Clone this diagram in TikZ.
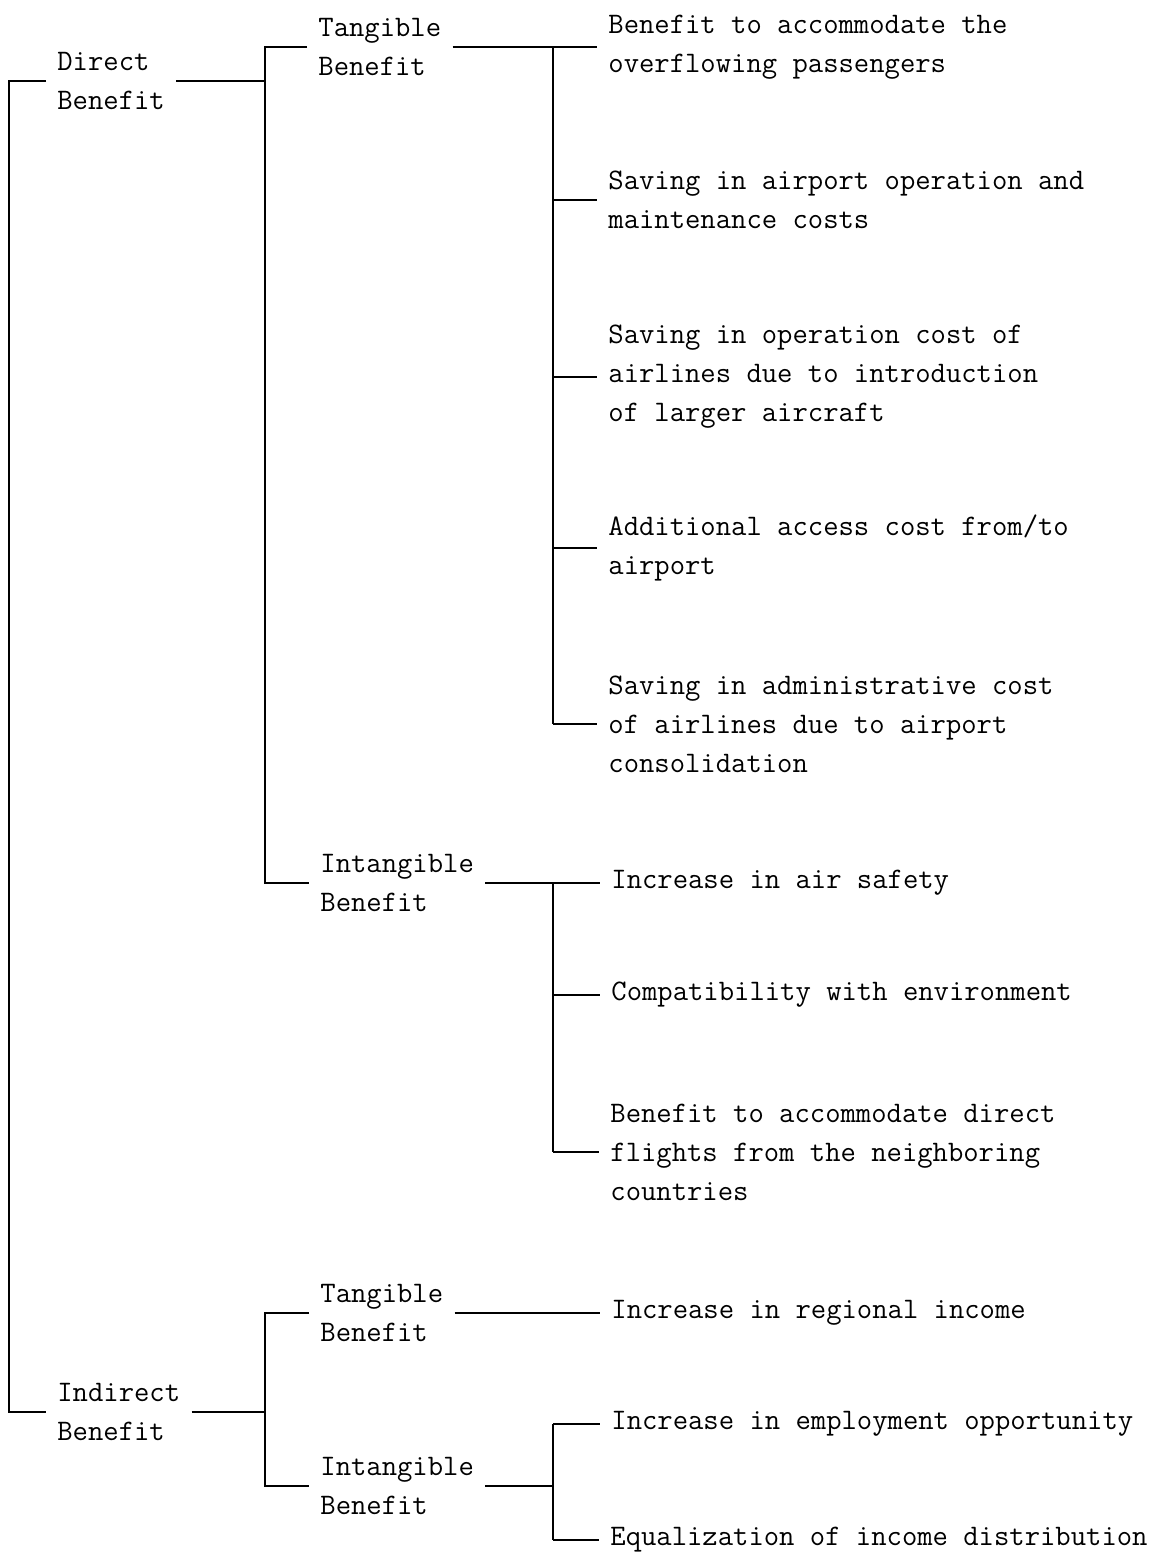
\documentclass[tikz,border=0pt]{standalone}
\usepackage{fontspec}
\usetikzlibrary{positioning}

\begin{document}
\begin{tikzpicture}[x=0.5pt,y=-0.5pt,
  lbl/.style={anchor=west,align=left,inner xsep=5.5pt,inner ysep=0pt,
    font=\fontsize{14.9}{19.5}\selectfont\ttfamily},
  ln/.style={black,line width=0.9pt}]
\useasboundingbox (0,0) rectangle (1157,1557);

% columns of the brackets
\coordinate (x0) at (9,0);
\coordinate (x1) at (265,0);
\coordinate (x2) at (553,0);

% first level
\node[lbl] (direct) at (46,81) {Direct\\Benefit};
\node[lbl] (indirect) at (46,1412) {Indirect\\Benefit};

% second level
\node[lbl] (tanA) at (307,47) {Tangible\\Benefit};
\node[lbl] (intA) at (309,883) {Intangible\\Benefit};
\node[lbl] (tanB) at (309,1313) {Tangible\\Benefit};
\node[lbl] (intB) at (309,1486) {Intangible\\Benefit};

% items
\node[lbl] (a1) at (597,47) {Benefit to accommodate the\\overflowing passengers};
\node[lbl] (a2) at (597,200) {Saving in airport operation and\\maintenance costs};
\node[lbl] (a3) at (597,377) {Saving in operation cost of\\airlines due to introduction\\of larger aircraft};
\node[lbl] (a4) at (597,548) {Additional access cost from/to\\airport};
\node[lbl] (a5) at (597,724) {Saving in administrative cost\\of airlines due to airport\\consolidation};
\node[lbl] (b1) at (600,883) {Increase in air safety};
\node[lbl] (b2) at (600,995) {Compatibility with environment};
\node[lbl] (b3) at (599,1152) {Benefit to accommodate direct\\flights from the neighboring\\countries};
\node[lbl] (c1) at (600,1313) {Increase in regional income};
\node[lbl] (d1) at (600,1424) {Increase in employment opportunity};
\node[lbl] (d2) at (599,1540) {Equalization of income distribution};

% brackets
\draw[ln] (direct.west) -- (direct.west -| x0) -- (indirect.west -| x0) -- (indirect.west);
\draw[ln] (direct.east) -- (direct.east -| x1);
\draw[ln] (tanA.west) -- (tanA.west -| x1) -- (intA.west -| x1) -- (intA.west);
\draw[ln] (indirect.east) -- (indirect.east -| x1);
\draw[ln] (tanB.west) -- (tanB.west -| x1) -- (intB.west -| x1) -- (intB.west);

\draw[ln] (tanA.east) -- (a1.west);
\draw[ln] (a1.west -| x2) -- (a5.west -| x2);
\foreach \n in {a2,a3,a4,a5} \draw[ln] (\n.west -| x2) -- (\n.west);

\draw[ln] (intA.east) -- (b1.west);
\draw[ln] (b1.west -| x2) -- (b3.west -| x2);
\foreach \n in {b2,b3} \draw[ln] (\n.west -| x2) -- (\n.west);

\draw[ln] (tanB.east) -- (c1.west);

\draw[ln] (intB.east) -- (intB.east -| x2);
\draw[ln] (d1.west -| x2) -- (d2.west -| x2);
\foreach \n in {d1,d2} \draw[ln] (\n.west -| x2) -- (\n.west);

\end{tikzpicture}
\end{document}
